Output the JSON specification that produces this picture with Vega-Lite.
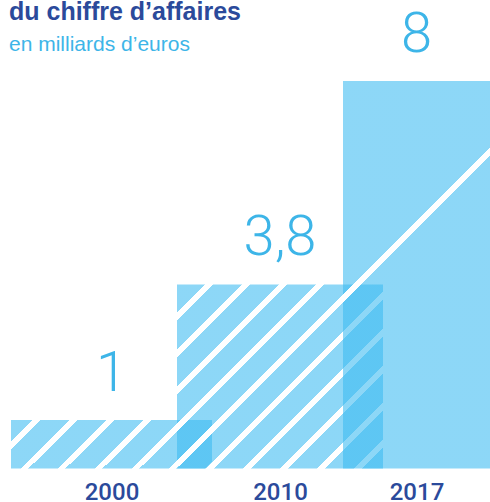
{
  "$schema": "https://vega.github.io/schema/vega-lite/v6.json",
  "width": 490,
  "height": 502,
  "autosize": {"type": "none"},
  "padding": 0,
  "background": "white",
  "config": {"view": {"stroke": null}},
  "title": {
    "text": "du chiffre d’affaires",
    "subtitle": "en milliards d’euros",
    "anchor": "start",
    "frame": "group",
    "orient": "top",
    "offset": -55,
    "dx": 9,
    "font": "Liberation Sans",
    "fontSize": 25,
    "fontWeight": "bold",
    "color": "#2B4A9B",
    "subtitleFont": "Liberation Sans",
    "subtitleFontSize": 21,
    "subtitleColor": "#3DB5E8",
    "subtitlePadding": 9
  },
  "data": {
    "values": [
      {"year": 2000, "value": 1, "label": "1"},
      {"year": 2010, "value": 3.8, "label": "3,8"},
      {"year": 2017, "value": 8, "label": "8"}
    ]
  },
  "encoding": {
    "x": {
      "field": "year",
      "type": "quantitative",
      "scale": {"type": "linear", "domain": [2000, 2010, 2017], "range": [111.5, 280, 416.5], "padding": 0, "nice": false, "zero": false, "clamp": false},
      "axis": {
        "title": null,
        "values": [2000, 2010, 2017],
        "format": "d",
        "ticks": false,
        "domain": false,
        "grid": false,
        "labelFlush": false,
        "labelOverlap": false,
        "labelAngle": 0,
        "labelFont": "Roboto",
        "labelFontSize": 24,
        "labelFontWeight": 500,
        "labelColor": "#2B4A9B",
        "labelPadding": 0,
        "offset": -22
      }
    },
    "y": {
      "field": "value",
      "type": "quantitative",
      "scale": {"domain": [-0.6916, 9.6723], "nice": false, "zero": false, "padding": 0},
      "axis": null
    }
  },
  "layer": [
    {
      "transform": [{"filter": "datum.year == 2017"}],
      "mark": {
        "type": "bar",
        "width": 147,
        "fillOpacity": 0.59,
        "fill": {
          "gradient": "linear", "x1": 0, "y1": 0, "x2": 0.45743, "y2": 1.20583,
          "stops": [
            {"offset": 0, "color": "#3DBBF1"},
            {"offset": 0.3994, "color": "#3DBBF1"},
            {"offset": 0.3994, "color": "rgba(61,187,241,0)"},
            {"offset": 0.4144, "color": "rgba(61,187,241,0)"},
            {"offset": 0.4144, "color": "#3DBBF1"},
            {"offset": 1, "color": "#3DBBF1"}
          ]
        }
      }
    },
    {
      "transform": [{"filter": "datum.year == 2010"}],
      "mark": {
        "type": "bar",
        "width": 206,
        "fillOpacity": 0.59,
        "fill": {
          "gradient": "linear", "x1": 0, "y1": 0, "x2": 1.05285, "y2": 0.94092,
          "stops": [
            {"offset": 0, "color": "#3DBBF1"},
            {"offset": 0.0720, "color": "#3DBBF1"},
            {"offset": 0.0720, "color": "rgba(61,187,241,0)"},
            {"offset": 0.0925, "color": "rgba(61,187,241,0)"},
            {"offset": 0.0925, "color": "#3DBBF1"},
            {"offset": 0.1669, "color": "#3DBBF1"},
            {"offset": 0.1669, "color": "rgba(61,187,241,0)"},
            {"offset": 0.1874, "color": "rgba(61,187,241,0)"},
            {"offset": 0.1874, "color": "#3DBBF1"},
            {"offset": 0.2617, "color": "#3DBBF1"},
            {"offset": 0.2617, "color": "rgba(61,187,241,0)"},
            {"offset": 0.2822, "color": "rgba(61,187,241,0)"},
            {"offset": 0.2822, "color": "#3DBBF1"},
            {"offset": 0.3566, "color": "#3DBBF1"},
            {"offset": 0.3566, "color": "rgba(61,187,241,0)"},
            {"offset": 0.3771, "color": "rgba(61,187,241,0)"},
            {"offset": 0.3771, "color": "#3DBBF1"},
            {"offset": 0.4514, "color": "#3DBBF1"},
            {"offset": 0.4514, "color": "rgba(61,187,241,0)"},
            {"offset": 0.4719, "color": "rgba(61,187,241,0)"},
            {"offset": 0.4719, "color": "#3DBBF1"},
            {"offset": 0.5463, "color": "#3DBBF1"},
            {"offset": 0.5463, "color": "rgba(61,187,241,0)"},
            {"offset": 0.5667, "color": "rgba(61,187,241,0)"},
            {"offset": 0.5667, "color": "#3DBBF1"},
            {"offset": 0.6411, "color": "#3DBBF1"},
            {"offset": 0.6411, "color": "rgba(61,187,241,0)"},
            {"offset": 0.6616, "color": "rgba(61,187,241,0)"},
            {"offset": 0.6616, "color": "#3DBBF1"},
            {"offset": 0.7360, "color": "#3DBBF1"},
            {"offset": 0.7360, "color": "rgba(61,187,241,0)"},
            {"offset": 0.7565, "color": "rgba(61,187,241,0)"},
            {"offset": 0.7565, "color": "#3DBBF1"},
            {"offset": 0.8308, "color": "#3DBBF1"},
            {"offset": 0.8308, "color": "rgba(61,187,241,0)"},
            {"offset": 0.8513, "color": "rgba(61,187,241,0)"},
            {"offset": 0.8513, "color": "#3DBBF1"},
            {"offset": 0.9257, "color": "#3DBBF1"},
            {"offset": 0.9257, "color": "rgba(61,187,241,0)"},
            {"offset": 0.9462, "color": "rgba(61,187,241,0)"},
            {"offset": 0.9462, "color": "#3DBBF1"},
            {"offset": 1, "color": "#3DBBF1"}
          ]
        }
      }
    },
    {
      "transform": [{"filter": "datum.year == 2000"}],
      "mark": {
        "type": "bar",
        "width": 201,
        "fillOpacity": 0.59,
        "fill": {
          "gradient": "linear", "x1": 0, "y1": 0, "x2": 1.17300, "y2": 0.28304,
          "stops": [
            {"offset": 0, "color": "#3DBBF1"},
            {"offset": 0.0842, "color": "#3DBBF1"},
            {"offset": 0.0842, "color": "rgba(61,187,241,0)"},
            {"offset": 0.1162, "color": "rgba(61,187,241,0)"},
            {"offset": 0.1162, "color": "#3DBBF1"},
            {"offset": 0.2325, "color": "#3DBBF1"},
            {"offset": 0.2325, "color": "rgba(61,187,241,0)"},
            {"offset": 0.2645, "color": "rgba(61,187,241,0)"},
            {"offset": 0.2645, "color": "#3DBBF1"},
            {"offset": 0.3808, "color": "#3DBBF1"},
            {"offset": 0.3808, "color": "rgba(61,187,241,0)"},
            {"offset": 0.4128, "color": "rgba(61,187,241,0)"},
            {"offset": 0.4128, "color": "#3DBBF1"},
            {"offset": 0.5291, "color": "#3DBBF1"},
            {"offset": 0.5291, "color": "rgba(61,187,241,0)"},
            {"offset": 0.5611, "color": "rgba(61,187,241,0)"},
            {"offset": 0.5611, "color": "#3DBBF1"},
            {"offset": 0.6774, "color": "#3DBBF1"},
            {"offset": 0.6774, "color": "rgba(61,187,241,0)"},
            {"offset": 0.7094, "color": "rgba(61,187,241,0)"},
            {"offset": 0.7094, "color": "#3DBBF1"},
            {"offset": 0.8257, "color": "#3DBBF1"},
            {"offset": 0.8257, "color": "rgba(61,187,241,0)"},
            {"offset": 0.8577, "color": "rgba(61,187,241,0)"},
            {"offset": 0.8577, "color": "#3DBBF1"},
            {"offset": 0.9739, "color": "#3DBBF1"},
            {"offset": 0.9739, "color": "rgba(61,187,241,0)"},
            {"offset": 1, "color": "rgba(61,187,241,0)"}
          ]
        }
      }
    },
    {
      "mark": {
        "type": "text",
        "dy": -29,
        "baseline": "alphabetic",
        "align": "center",
        "font": "Roboto",
        "fontWeight": 300,
        "fontSize": 56,
        "color": "#3DB5E8"
      },
      "encoding": {"text": {"field": "label"}}
    }
  ]
}
